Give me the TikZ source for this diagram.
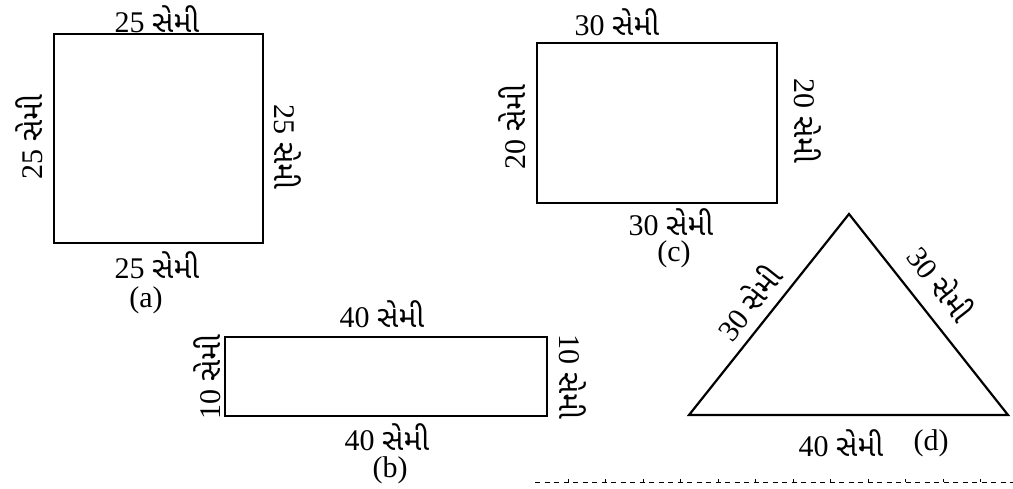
\documentclass[tikz,border=0pt]{standalone}
\usepackage{fontspec}
\setmainfont{Liberation Serif}
\newfontfamily\guj[Script=Gujarati]{Noto Sans Gujarati UI}
\newcommand{\semi}[1]{#1 {\guj સેમી}}
\begin{document}
\begin{tikzpicture}[x=1pt,y=-1pt]
\tikzset{
  lab/.style={font=\fontsize{30}{36}\selectfont, inner sep=0pt, text=black},
  shp/.style={line width=2.6pt, draw=black},
  tri/.style={line width=2.2pt, draw=black, line join=miter},
  cutline/.style={line width=1pt, dash pattern=on 5pt off 4.5pt}
}
\useasboundingbox (0,0) rectangle (1013,488);
% (a) square
\draw[shp] (54,34) rectangle (263,243);
\node[lab] (atop) at (157,19) {\semi{25}};
\node[lab] (abot) at (157,265) {\semi{25}};
\node[lab] (acap) at (146,300) {(a)};
\node[lab, rotate=90] (aleft) at (29,137) {\semi{25}};
\node[lab, rotate=-90] (aright) at (288,147) {\semi{25}};
% (b) rectangle
\draw[shp] (225,337) rectangle (547,416);
\node[lab] (btop) at (382,314) {\semi{40}};
\node[lab] (bbot) at (387,437) {\semi{40}};
\node[lab] (bcap) at (390,470) {(b)};
\node[lab, rotate=90] (bleft) at (207,377) {\semi{10}};
\node[lab, rotate=-90] (bright) at (573,377) {\semi{10}};
% (c) rectangle
\draw[shp] (537,43) rectangle (777,203);
\node[lab] (ctop) at (617,22) {\semi{30}};
\node[lab] (cbot) at (671,222) {\semi{30}};
\node[lab] (ccap) at (674,254) {(c)};
\node[lab, rotate=90] (cleft) at (512,127) {\semi{20}};
\node[lab, rotate=-90] (cright) at (808,121) {\semi{20}};
% (d) triangle
\coordinate (dA) at (849,214);
\coordinate (dB) at (689,415);
\coordinate (dC) at (1008,415);
\draw[tri] (dA) -- (dB) -- (dC) -- cycle;
\node[lab, rotate=51.6] (dleft) at (748,302) {\semi{30}};
\node[lab, rotate=-51.8] (dright) at (942,283) {\semi{30}};
\node[lab] (dbot) at (841,443) {\semi{40}};
\node[lab] (dcap) at (931,443) {(d)};
% cut line
\coordinate (cutL) at (535,482);
\coordinate (cutR) at (1013,482);
\draw[cutline] (cutL) -- (cutR);
\foreach \t in {568,605.5,...,1013} \draw[line width=1pt] (\t,482) -- (\t,478.5);
\end{tikzpicture}
\end{document}
